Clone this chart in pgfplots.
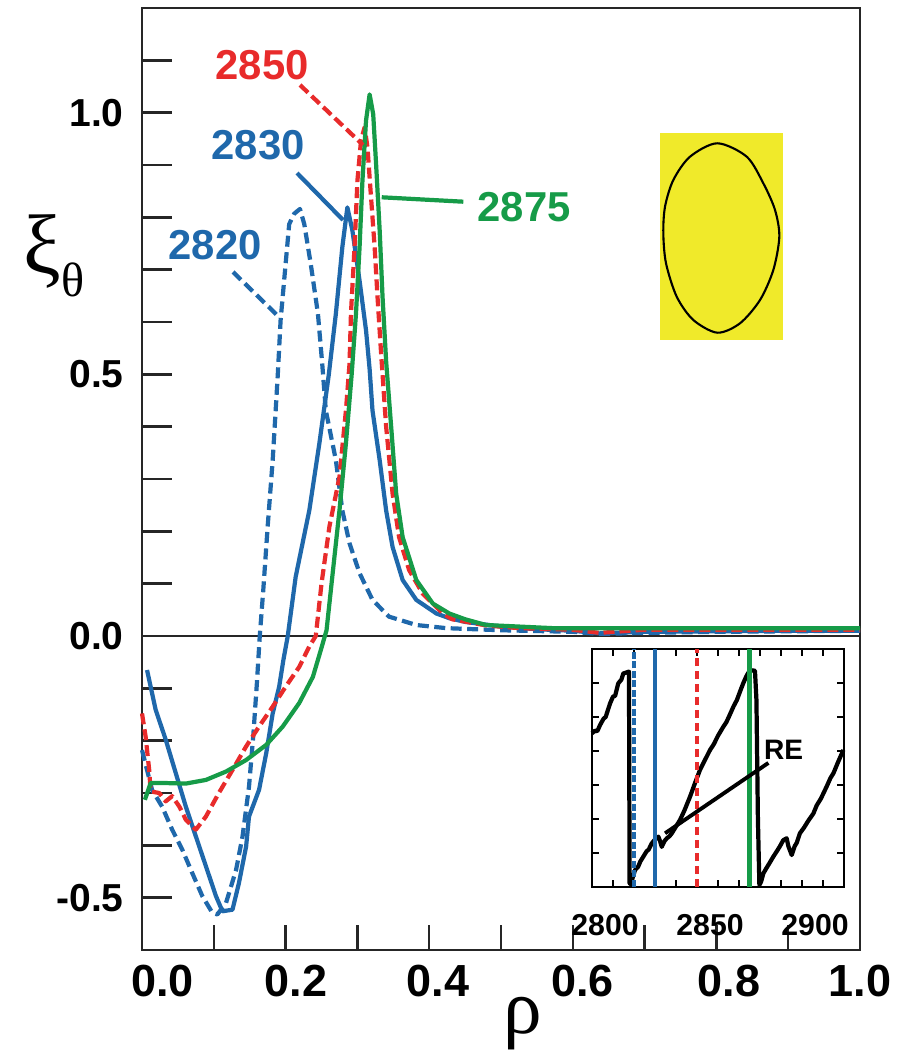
\documentclass[border=0pt]{standalone}
\usepackage{pgfplots}
\pgfplotsset{compat=1.18}
\usepackage{fontspec}
\setmainfont{Liberation Sans}
\newfontfamily\grk{Liberation Serif}
\definecolor{blueC}{RGB}{31,104,171}
\definecolor{redC}{RGB}{232,43,43}
\definecolor{greenC}{RGB}{22,155,72}
\definecolor{yellowC}{RGB}{240,234,42}
\begin{document}
\begin{tikzpicture}
\begin{axis}[
  name=main, at={(0,0)}, anchor=south west,
  scale only axis, width=71.8mm, height=94.2mm,
  xmin=0, xmax=1, ymin=-0.6, ymax=1.2,
  axis line style={black!85, line width=0.7pt},
  tick align=inside, xtick pos=bottom, ytick pos=left,
  xtick={0.0286,0.2145,0.412,0.6136,0.8175,1.0},
  xticklabels={0.0,0.2,0.4,0.6,0.8,1.0},
  minor xtick={0.1,0.2,0.3,0.4,0.5,0.6,0.7,0.8,0.9},
  major x tick style={draw=none},
  minor tick length=2.5mm,
  major tick length=3mm,
  ytick={-0.5,-0.4,-0.3,-0.2,-0.1,0,0.1,0.2,0.3,0.4,0.5,0.6,0.7,0.8,0.9,1.0,1.1},
  yticklabels={-0.5,,,,,0.0,,,,,0.5,,,,,1.0,},
  tick style={black!85, line width=0.7pt},
  xticklabel style={font=\fontsize{12.8}{13}\selectfont\bfseries, yshift=-0.3mm},
  yticklabel style={font=\fontsize{11.1}{12}\selectfont\bfseries, xshift=-0.6mm},
  clip=false,
]
\addplot[black!85, line width=0.6pt, forget plot] coordinates {(0,0) (1,0)};
% 2820 blue dashed
\addplot[blueC, line width=1.2pt, dash pattern=on 1.1mm off 0.55mm, line join=round] coordinates {
(0.0,-0.218) (0.014,-0.294) (0.028,-0.326) (0.042,-0.370) (0.056,-0.408) (0.070,-0.453) (0.084,-0.497) (0.098,-0.529) (0.105,-0.532) (0.117,-0.510) (0.131,-0.447) (0.140,-0.383) (0.149,-0.288) (0.155,-0.19) (0.160,-0.09) (0.164,0.0) (0.169,0.09) (0.175,0.209) (0.182,0.336) (0.189,0.497) (0.193,0.603) (0.200,0.711) (0.205,0.787) (0.212,0.807) (0.220,0.816) (0.226,0.787) (0.235,0.711) (0.245,0.616) (0.251,0.52) (0.256,0.431) (0.270,0.336) (0.279,0.240) (0.289,0.177) (0.303,0.120) (0.321,0.069) (0.344,0.037) (0.382,0.021) (0.424,0.015) (0.5,0.011) (0.6,0.008) (0.637,0.004) (0.7,0.006) (0.8,0.008) (0.9,0.009) (1.0,0.01)};
% 2830 blue solid
\addplot[blueC, line width=1.2pt, line join=round] coordinates {
(0.007,-0.065) (0.019,-0.141) (0.033,-0.198) (0.047,-0.262) (0.061,-0.326) (0.075,-0.383) (0.089,-0.440) (0.103,-0.497) (0.112,-0.526) (0.126,-0.523) (0.135,-0.472) (0.145,-0.402) (0.149,-0.345) (0.163,-0.294) (0.173,-0.224) (0.182,-0.148) (0.191,-0.097) (0.197,-0.045) (0.203,0.0) (0.214,0.113) (0.233,0.240) (0.247,0.368) (0.260,0.498) (0.270,0.616) (0.279,0.743) (0.286,0.819) (0.293,0.775) (0.303,0.679) (0.312,0.584) (0.317,0.51) (0.321,0.431) (0.331,0.336) (0.340,0.240) (0.349,0.170) (0.363,0.107) (0.382,0.069) (0.410,0.043) (0.428,0.034) (0.45,0.027) (0.5,0.018) (0.55,0.013) (0.6,0.01) (0.637,0.005) (0.7,0.008) (0.8,0.009) (0.9,0.01) (1.0,0.01)};
% 2850 red dashed
\addplot[redC, line width=1.2pt, dash pattern=on 1.1mm off 0.5mm, line join=round] coordinates {
(0.0,-0.148) (0.005,-0.192) (0.010,-0.256) (0.012,-0.297) (0.024,-0.300) (0.033,-0.316) (0.042,-0.306) (0.052,-0.326) (0.061,-0.351) (0.075,-0.370) (0.089,-0.345) (0.107,-0.300) (0.126,-0.256) (0.145,-0.211) (0.163,-0.173) (0.182,-0.135) (0.200,-0.097) (0.219,-0.059) (0.233,-0.02) (0.242,0.0) (0.250,0.1) (0.261,0.209) (0.275,0.304) (0.284,0.431) (0.289,0.52) (0.291,0.616) (0.296,0.743) (0.300,0.870) (0.305,0.947) (0.310,0.972) (0.314,0.934) (0.319,0.838) (0.324,0.743) (0.328,0.648) (0.333,0.54) (0.340,0.400) (0.349,0.272) (0.358,0.189) (0.372,0.126) (0.391,0.081) (0.419,0.043) (0.432,0.032) (0.48,0.02) (0.526,0.015) (0.6,0.012) (0.637,0.006) (0.7,0.012) (0.8,0.012) (0.9,0.012) (1.0,0.012)};
% 2875 green
\addplot[greenC, line width=1.2pt, line join=round] coordinates {
(0.004,-0.313) (0.012,-0.281) (0.033,-0.281) (0.061,-0.282) (0.089,-0.275) (0.117,-0.259) (0.145,-0.237) (0.173,-0.208) (0.196,-0.173) (0.219,-0.128) (0.238,-0.078) (0.249,-0.027) (0.257,0.011) (0.265,0.113) (0.275,0.240) (0.284,0.368) (0.292,0.5) (0.298,0.616) (0.303,0.743) (0.307,0.870) (0.312,0.985) (0.317,1.035) (0.322,0.997) (0.326,0.902) (0.331,0.775) (0.335,0.648) (0.340,0.525) (0.347,0.400) (0.354,0.272) (0.363,0.189) (0.382,0.107) (0.405,0.062) (0.428,0.043) (0.45,0.032) (0.479,0.021) (0.572,0.015) (0.7,0.015) (0.85,0.015) (1.0,0.015)};
\coordinate (O) at (rel axis cs:0,0);
\coordinate (bbSW) at (rel axis cs:-0.1978,-0.11465);
\coordinate (bbNE) at (rel axis cs:1.0682,1.0085);
\end{axis}
\begin{axis}[
  at={(45mm,6.3mm)}, anchor=south west, scale only axis, width=25.2mm, height=23.8mm,
  xmin=2800, xmax=2920, ymin=0, ymax=7,
  axis background/.style={fill=white},
  axis line style={black, line width=0.7pt},
  tick align=inside, major tick length=0.7mm, tick style={black, line width=0.6pt},
  xtick={2800,2810,2820,2830,2840,2850,2860,2870,2880,2890,2900,2910},
  xticklabels={2800,,,,,2850,,,,,2900,},
  ytick={1,2,3,4,5,6}, yticklabels={},
  xticklabel style={font=\fontsize{8.6}{9}\selectfont\bfseries, xshift=1.3mm, yshift=-1.5mm},
  clip=false,
]
\addplot[black, line width=1.2pt, line join=round] coordinates {
(2800,4.52) (2801.5,4.6) (2802.5,4.58) (2803.8,4.76) (2805.5,4.95) (2806.5,5.0) (2808.6,5.40) (2810,5.6) (2811,5.62) (2812.5,5.99) (2814,6.1) (2814.9,6.28) (2816,6.3) (2817.3,6.33) (2817.6,6.33) (2817.9,0.11) (2818.5,0.08) (2819.5,0.3) (2820.5,0.5) (2822,0.6) (2823,0.75) (2824.4,0.89) (2826,1.05) (2827,1.1) (2828.4,1.28) (2830,1.4) (2831.6,1.48) (2832.4,1.35) (2833.2,1.18) (2834.5,1.35) (2835.6,1.43) (2837,1.5) (2838,1.58) (2840,1.78) (2841.9,1.97) (2844,2.25) (2846.7,2.66) (2849,3.05) (2851.4,3.44) (2853.5,3.7) (2856.2,4.03) (2858,4.2) (2860,4.45) (2862.5,4.71) (2864,4.85) (2865.5,5.05) (2867.3,5.30) (2869,5.5) (2870.5,5.75) (2872,5.99) (2873.5,6.2) (2875.2,6.38) (2877.6,6.36) (2878.3,5.5) (2879,2.0) (2879.7,0.06) (2880.5,0.15) (2881.6,0.40) (2883,0.55) (2884.5,0.7) (2886.3,0.89) (2888,1.05) (2889.5,1.2) (2891.1,1.38) (2892.7,1.43) (2893.5,1.2) (2895.1,0.94) (2896.5,1.2) (2897.5,1.3) (2899,1.58) (2901,1.75) (2903,1.95) (2905.4,2.16) (2907,2.4) (2909,2.6) (2911.7,2.95) (2913.5,3.2) (2915,3.35) (2917,3.65) (2919.7,4.03)};
\addplot[blueC, line width=1.1pt, dash pattern=on 0.7mm off 0.25mm] coordinates {(2820,0) (2820,7)};
\addplot[blueC, line width=1.1pt] coordinates {(2830,0) (2830,7)};
\addplot[redC, line width=1.1pt, dash pattern=on 0.8mm off 0.5mm] coordinates {(2850,0) (2850,7)};
\addplot[greenC, line width=1.3pt] coordinates {(2875,0) (2875,7)};
\draw[black, line width=1.1pt] (axis cs:2834.8,1.58) -- (axis cs:2884,3.65);
\node[font=\fontsize{8}{9}\selectfont\bfseries] at (axis cs:2891.2,4.03) {RE};
\end{axis}
\begin{scope}[shift={(O)}, x=0.1mm, y=0.1mm]
\fill[yellowC] (518,610) rectangle (641,817);
\draw[black, line width=0.6pt] plot[smooth cycle] coordinates {(575.3,806.7) (548,793.3) (531.3,770) (523,743.3) (521.3,716.7) (524,686.7) (534.7,653.3) (551.3,630) (575.3,617.3) (598,626.7) (618,650) (631.3,680) (637.3,713.3) (633,740) (621.3,766.7) (604.7,793.3)};
\node[text=redC, font=\fontsize{11.9}{12}\selectfont\bfseries] at (120,885) {2850};
\node[text=blueC, font=\fontsize{11.9}{12}\selectfont\bfseries] at (116,805) {2830};
\node[text=blueC, font=\fontsize{11.9}{12}\selectfont\bfseries] at (73,705) {2820};
\node[text=greenC, font=\fontsize{11.9}{12}\selectfont\bfseries] at (382,743) {2875};
\draw[redC, line width=1.2pt, dash pattern=on 1.1mm off 0.5mm] (158,865) -- (221,805);
\draw[blueC, line width=1.2pt] (155,777) -- (201,730);
\draw[blueC, line width=1.2pt, dash pattern=on 1.1mm off 0.55mm] (91,678) -- (138,632);
\draw[greenC, line width=1.2pt] (239.7,752.7) -- (321.3,748.3);
\node[anchor=base west, inner sep=0, font=\grk\fontsize{24}{24}\selectfont] at (-119,676) {ξ\raisebox{-6.5pt}{\fontsize{13.7}{14}\selectfont θ}};
\node[anchor=north, inner sep=0, font=\grk\fontsize{22}{22}\selectfont] at (381,-47) {ρ};
\end{scope}
\pgfresetboundingbox
\path[use as bounding box] (bbSW) rectangle (bbNE);
\end{tikzpicture}
\end{document}
